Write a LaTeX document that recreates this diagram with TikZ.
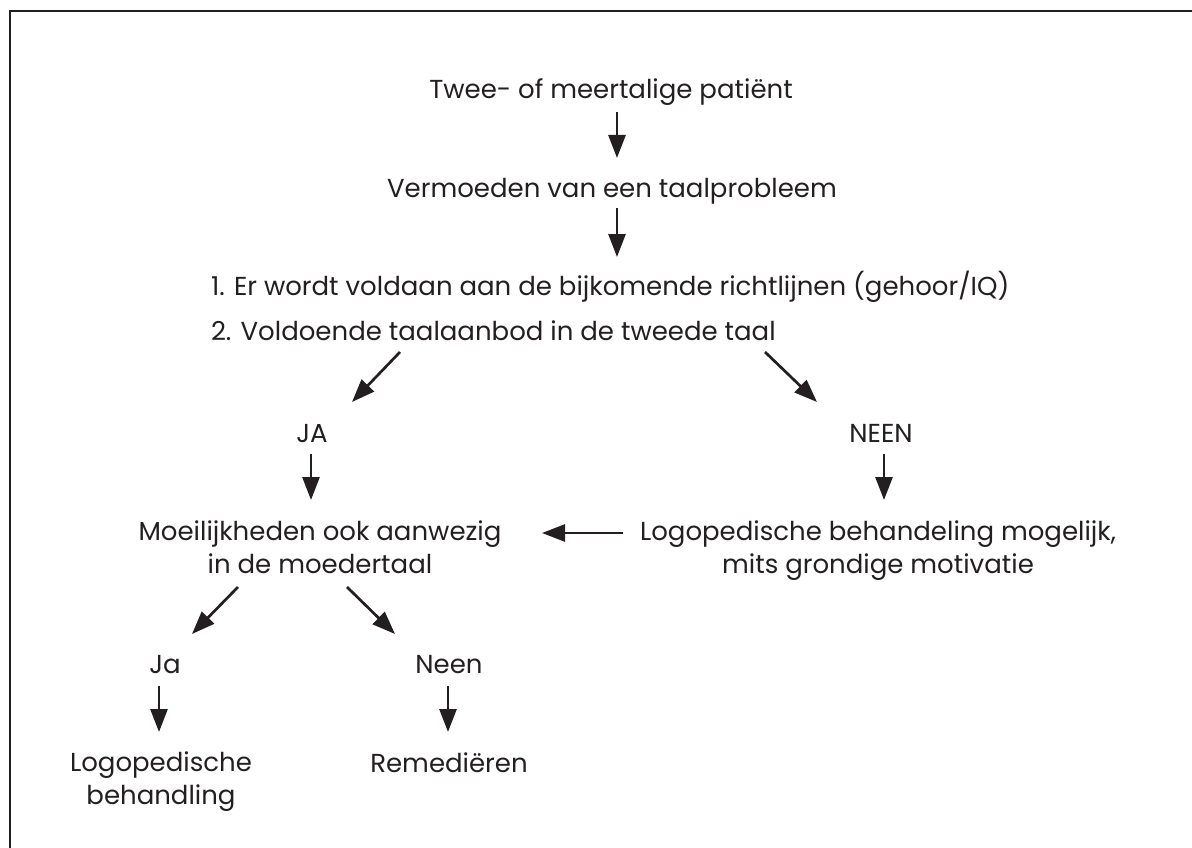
\documentclass[tikz,border=0pt]{standalone}
\usepackage{fontspec}
\setmainfont{Poppins}
\usetikzlibrary{arrows.meta,calc}
\definecolor{ink}{HTML}{231F20}
\begin{document}
\begin{tikzpicture}[x=1pt,y=-1pt,
  txt/.style={inner sep=0pt, outer sep=0pt, text=ink, font=\fontsize{26}{33}\selectfont},
  arr/.style={draw=ink, line width=2.7pt, -{Triangle[length=23pt,width=17pt]}}]
\useasboundingbox (0,0) rectangle (1192,848);
\draw[ink, line width=2pt] (9.5,848) -- (9.5,11) -- (1192,11);

\node[txt, anchor=base] (t1) at (611,99) {Twee- of meertalige patiënt};
\node[txt, anchor=base] (t2) at (612,197) {Vermoeden van een taalprobleem};
\node[txt, anchor=base west, align=left, font=\fontsize{26}{45}\selectfont] (crit) at (211,340)
  {1. Er wordt voldaan aan de bijkomende richtlijnen (gehoor/IQ)\\2. Voldoende taalaanbod in de tweede taal};
\node[txt, anchor=base] (ja) at (312,442) {JA};
\node[txt, anchor=base] (neen) at (881,442) {NEEN};
\node[txt, anchor=base, align=center] (moei) at (320,573) {Moeilijkheden ook aanwezig\\in de moedertaal};
\node[txt, anchor=base, align=center] (logo) at (878,573) {Logopedische behandeling mogelijk,\\mits grondige motivatie};
\node[txt, anchor=base] (ja2) at (165,673) {Ja};
\node[txt, anchor=base] (neen2) at (449,673) {Neen};
\node[txt, anchor=base, align=center] (behand) at (161,804) {Logopedische\\behandling};
\node[txt, anchor=base] (rem) at (449,772) {Remediëren};

\draw[arr] ($(t1.base)+(6,13)$) -- ($(t2.base)+(5,-39)$);
\draw[arr] ($(t2.base)+(5,11)$) -- ($(crit.base west)+(406,-83)$);
\draw[arr] ($(crit.base west)+(189,12)$) -- ($(ja.base)+(40,-40)$);
\draw[arr] ($(crit.base west)+(554,12)$) -- ($(neen.base)+(-64,-40)$);
\draw[arr] ($(ja.base)+(-1,12)$) -- ($(moei.base)+(-9,-73)$);
\draw[arr] ($(neen.base)+(3,12)$) -- ($(logo.base)+(6,-73)$);
\draw[arr] ($(logo.base)+(-255,-40)$) -- ($(moei.base)+(222,-40)$);
\draw[arr] ($(moei.base)+(-82,14)$) -- ($(ja2.base)+(27,-39)$);
\draw[arr] ($(moei.base)+(27,14)$) -- ($(neen2.base)+(-54,-39)$);
\draw[arr] ($(ja2.base)+(-6,13)$) -- ($(behand.base)+(-2,-72)$);
\draw[arr] ($(neen2.base)+(-1,13)$) -- ($(rem.base)+(-1,-40)$);
\end{tikzpicture}
\end{document}
